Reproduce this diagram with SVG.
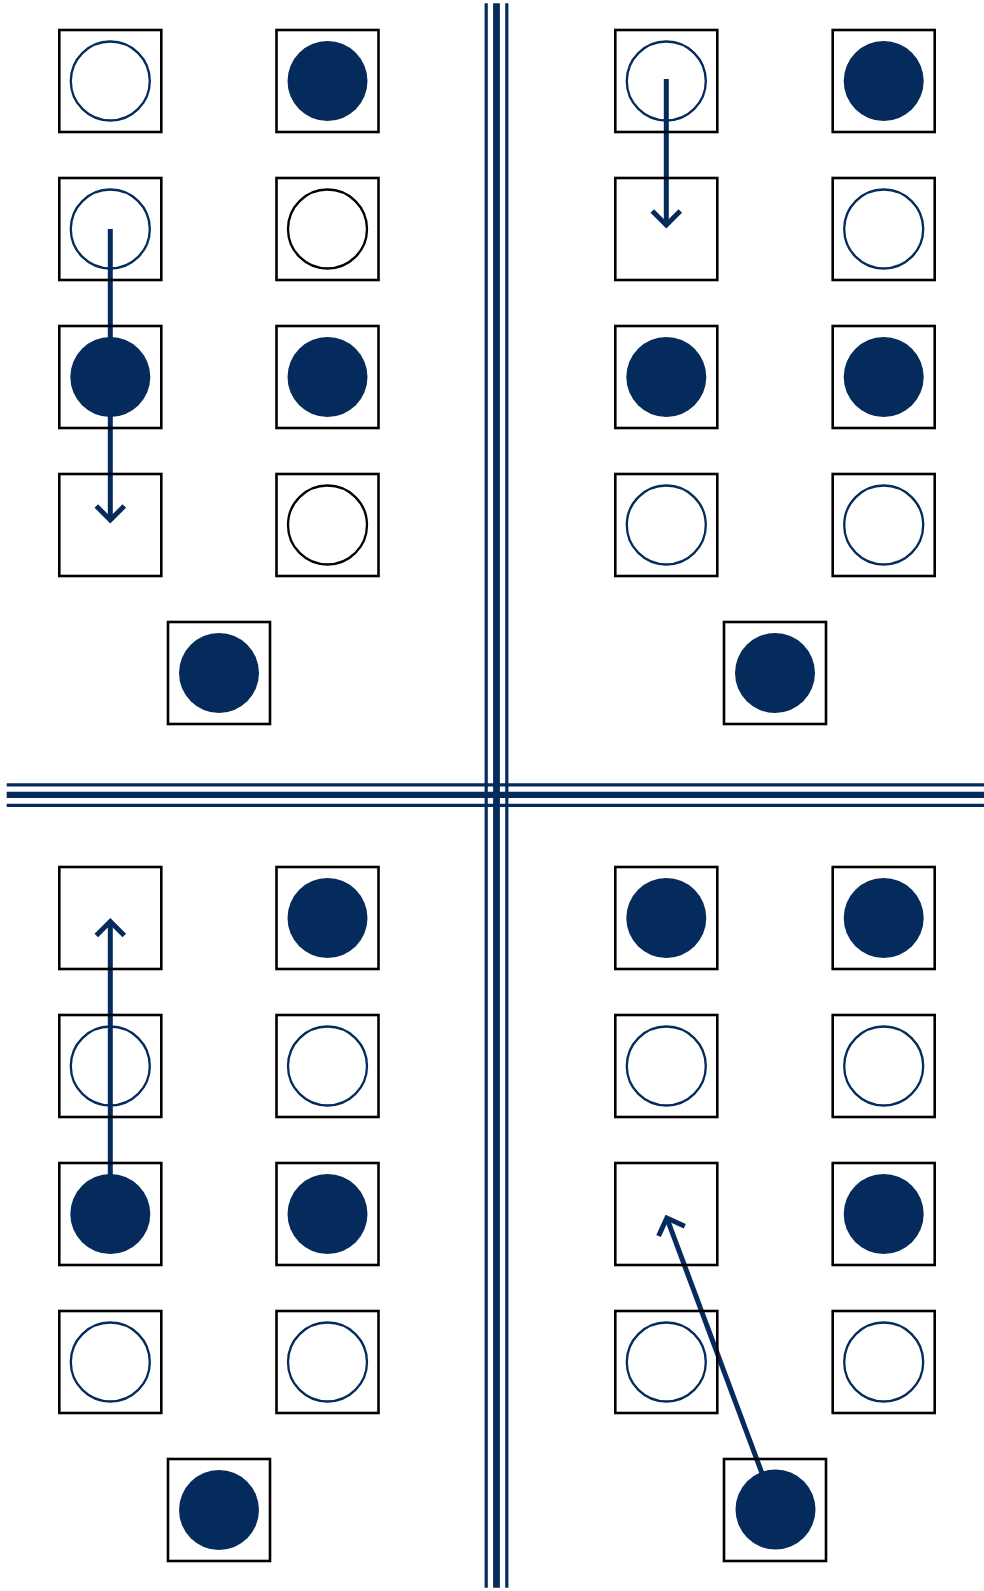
<svg xmlns="http://www.w3.org/2000/svg" width="984" height="1591" viewBox="0 0 984 1591">
<style>
.box{fill:none;stroke:#000;stroke-width:2.6}
.open{fill:none;stroke:#042b5c;stroke-width:2.3}
.openk{fill:none;stroke:#000;stroke-width:2.3}
.full{fill:#042b5c}
.div{stroke:#042b5c;fill:none}
.conn{stroke:#042b5c;stroke-width:5;fill:none;marker-end:url(#chev)}
</style>
<defs>
<marker id="chev" markerUnits="userSpaceOnUse" viewBox="-30 -30 60 60" markerWidth="60" markerHeight="60" refX="0" refY="0" orient="auto" overflow="visible">
<path d="M-14,-14 L0,0 L-14,14" fill="none" stroke="#042b5c" stroke-width="5" stroke-linejoin="miter"/>
</marker>
</defs>
<rect width="984" height="1591" fill="#fff"/>
<g id="dividers">
<line class="div" x1="486.2" y1="3.3" x2="486.2" y2="1587.7" stroke-width="3.2"/>
<line class="div" x1="496.5" y1="3.3" x2="496.5" y2="1587.7" stroke-width="6.8"/>
<line class="div" x1="506.8" y1="3.3" x2="506.8" y2="1587.7" stroke-width="3.2"/>
<line class="div" x1="6.7" y1="784.8" x2="984" y2="784.8" stroke-width="3.2"/>
<line class="div" x1="6.7" y1="794.9" x2="984" y2="794.9" stroke-width="6.2"/>
<line class="div" x1="6.7" y1="805.3" x2="984" y2="805.3" stroke-width="3.2"/>
</g>
<g id="connectors">
<line class="conn" x1="110.3" y1="229" x2="110.3" y2="520"/>
<line class="conn" x1="666.3" y1="79" x2="666.3" y2="225"/>
<line class="conn" x1="110.3" y1="1214" x2="110.3" y2="921.5"/>
<line class="conn" x1="775.5" y1="1509.5" x2="666.8" y2="1218"/>
</g>
<!-- top-left quadrant -->
<g id="tl-r1-c1"><rect class="box" x="59.3" y="30" width="102" height="102"/><circle class="open" cx="110.3" cy="81" r="39.5"/></g>
<g id="tl-r1-c2"><rect class="box" x="276.5" y="30" width="102" height="102"/><circle class="full" cx="327.5" cy="81" r="40"/></g>
<g id="tl-r2-c1"><rect class="box" x="59.3" y="178" width="102" height="102"/><circle class="open" cx="110.3" cy="229" r="39.5"/></g>
<g id="tl-r2-c2"><rect class="box" x="276.5" y="178" width="102" height="102"/><circle class="openk" cx="327.5" cy="229" r="39.5"/></g>
<g id="tl-r3-c1"><rect class="box" x="59.3" y="326" width="102" height="102"/><circle class="full" cx="110.3" cy="377" r="40"/></g>
<g id="tl-r3-c2"><rect class="box" x="276.5" y="326" width="102" height="102"/><circle class="full" cx="327.5" cy="377" r="40"/></g>
<g id="tl-r4-c1"><rect class="box" x="59.3" y="474" width="102" height="102"/></g>
<g id="tl-r4-c2"><rect class="box" x="276.5" y="474" width="102" height="102"/><circle class="openk" cx="327.5" cy="525" r="39.5"/></g>
<g id="tl-single"><rect class="box" x="168" y="622" width="102" height="102"/><circle class="full" cx="219" cy="673" r="40"/></g>
<!-- top-right quadrant -->
<g id="tr-r1-c1"><rect class="box" x="615.3" y="30" width="102" height="102"/><circle class="open" cx="666.3" cy="81" r="39.5"/></g>
<g id="tr-r1-c2"><rect class="box" x="832.7" y="30" width="102" height="102"/><circle class="full" cx="883.7" cy="81" r="40"/></g>
<g id="tr-r2-c1"><rect class="box" x="615.3" y="178" width="102" height="102"/></g>
<g id="tr-r2-c2"><rect class="box" x="832.7" y="178" width="102" height="102"/><circle class="open" cx="883.7" cy="229" r="39.5"/></g>
<g id="tr-r3-c1"><rect class="box" x="615.3" y="326" width="102" height="102"/><circle class="full" cx="666.3" cy="377" r="40"/></g>
<g id="tr-r3-c2"><rect class="box" x="832.7" y="326" width="102" height="102"/><circle class="full" cx="883.7" cy="377" r="40"/></g>
<g id="tr-r4-c1"><rect class="box" x="615.3" y="474" width="102" height="102"/><circle class="open" cx="666.3" cy="525" r="39.5"/></g>
<g id="tr-r4-c2"><rect class="box" x="832.7" y="474" width="102" height="102"/><circle class="open" cx="883.7" cy="525" r="39.5"/></g>
<g id="tr-single"><rect class="box" x="724" y="622" width="102" height="102"/><circle class="full" cx="775" cy="673" r="40"/></g>
<!-- bottom-left quadrant -->
<g id="bl-r1-c1"><rect class="box" x="59.3" y="867" width="102" height="102"/></g>
<g id="bl-r1-c2"><rect class="box" x="276.5" y="867" width="102" height="102"/><circle class="full" cx="327.5" cy="918" r="40"/></g>
<g id="bl-r2-c1"><rect class="box" x="59.3" y="1015" width="102" height="102"/><circle class="open" cx="110.3" cy="1066" r="39.5"/></g>
<g id="bl-r2-c2"><rect class="box" x="276.5" y="1015" width="102" height="102"/><circle class="open" cx="327.5" cy="1066" r="39.5"/></g>
<g id="bl-r3-c1"><rect class="box" x="59.3" y="1163" width="102" height="102"/><circle class="full" cx="110.3" cy="1214" r="40"/></g>
<g id="bl-r3-c2"><rect class="box" x="276.5" y="1163" width="102" height="102"/><circle class="full" cx="327.5" cy="1214" r="40"/></g>
<g id="bl-r4-c1"><rect class="box" x="59.3" y="1311" width="102" height="102"/><circle class="open" cx="110.3" cy="1362" r="39.5"/></g>
<g id="bl-r4-c2"><rect class="box" x="276.5" y="1311" width="102" height="102"/><circle class="open" cx="327.5" cy="1362" r="39.5"/></g>
<g id="bl-single"><rect class="box" x="168" y="1459" width="102" height="102"/><circle class="full" cx="219" cy="1510" r="40"/></g>
<!-- bottom-right quadrant -->
<g id="br-r1-c1"><rect class="box" x="615.3" y="867" width="102" height="102"/><circle class="full" cx="666.3" cy="918" r="40"/></g>
<g id="br-r1-c2"><rect class="box" x="832.7" y="867" width="102" height="102"/><circle class="full" cx="883.7" cy="918" r="40"/></g>
<g id="br-r2-c1"><rect class="box" x="615.3" y="1015" width="102" height="102"/><circle class="open" cx="666.3" cy="1066" r="39.5"/></g>
<g id="br-r2-c2"><rect class="box" x="832.7" y="1015" width="102" height="102"/><circle class="open" cx="883.7" cy="1066" r="39.5"/></g>
<g id="br-r3-c1"><rect class="box" x="615.3" y="1163" width="102" height="102"/></g>
<g id="br-r3-c2"><rect class="box" x="832.7" y="1163" width="102" height="102"/><circle class="full" cx="883.7" cy="1214" r="40"/></g>
<g id="br-r4-c1"><rect class="box" x="615.3" y="1311" width="102" height="102"/><circle class="open" cx="666.3" cy="1362" r="39.5"/></g>
<g id="br-r4-c2"><rect class="box" x="832.7" y="1311" width="102" height="102"/><circle class="open" cx="883.7" cy="1362" r="39.5"/></g>
<g id="br-single"><rect class="box" x="724" y="1459" width="102" height="102"/><circle class="full" cx="775.5" cy="1509.5" r="40"/></g>
</svg>
